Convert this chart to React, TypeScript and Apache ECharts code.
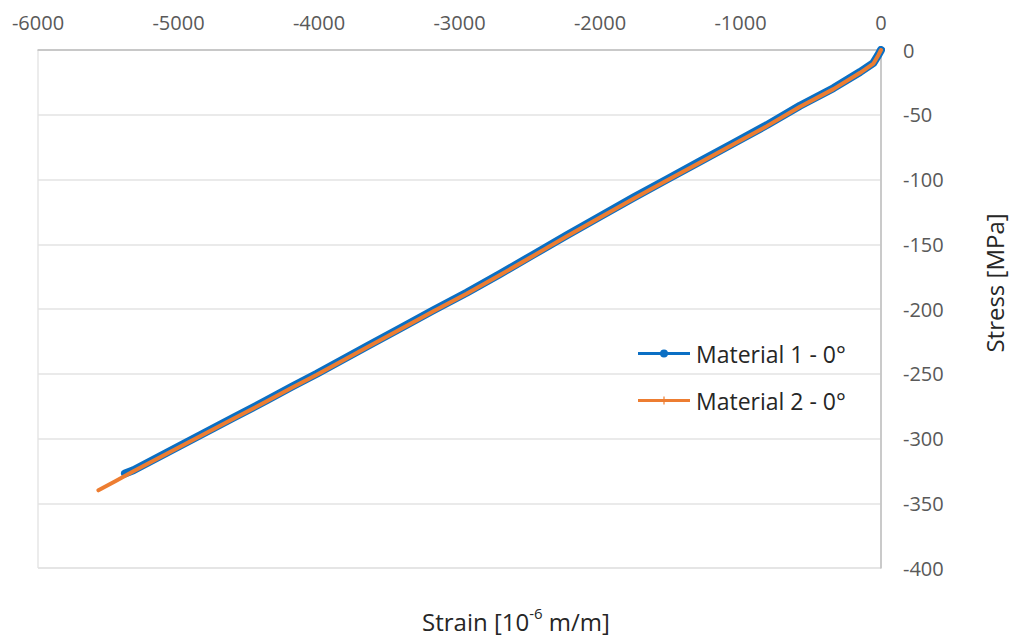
import React, { useEffect, useRef } from "react";
import * as echarts from "echarts";

const strain1 = [0, -20, -54, -149, -339, -577, -813, -1050, -1288, -1525, -1762, -2000, -2236, -2474, -2712, -2950, -3186, -3424, -3661, -3840, -4016, -4194, -4372, -4610, -4847, -5084, -5321, -5381];
const stress1 = [0, -4, -10, -17, -29.5, -43, -58, -72, -86, -100, -114, -128.5, -143, -158, -173, -187.5, -201, -215, -229, -239.5, -250, -260, -270.5, -284, -297.5, -311, -324.5, -327];

const strain2 = [0, -20, -54, -149, -339, -577, -813, -1050, -1288, -1525, -1762, -2000, -2236, -2474, -2712, -2950, -3186, -3424, -3661, -3840, -4016, -4194, -4372, -4610, -4847, -5084, -5321, -5450, -5570];
const stress2 = [0, -4.2, -10.5, -17.6, -30.2, -43.8, -58.8, -72.8, -86.8, -100.8, -114.8, -129.3, -143.8, -158.8, -173.8, -188.3, -201.8, -215.8, -229.8, -240.3, -250.8, -260.8, -271.3, -284.8, -298.3, -311.8, -325.3, -333, -340];

const seriesNames = ["Material 1 - 0°", "Material 2 - 0°"];
const yTitle = "Stress [MPa]";

const FONT = "'Open Sans', 'Noto Sans', sans-serif";

export default function App() {
  const ref = useRef<HTMLDivElement>(null);
  useEffect(() => {
    document.body.style.margin = "0";
    if (!ref.current) return;
    const chart = echarts.init(ref.current, null, { renderer: "svg" });
    const d1 = strain1.map((x, i) => [x, stress1[i]]);
    const d2 = strain2.map((x, i) => [x, stress2[i]]);
    const blueIcon = "path://M0,2.5 L52,2.5 L52,5.5 L0,5.5 Z M22,4 A4,4 0 1,1 30,4 A4,4 0 1,1 22,4 Z";
    const orangeIcon = "path://M0,2.5 L52,2.5 L52,5.5 L0,5.5 Z M25.4,0 L26.6,0 L26.6,8 L25.4,8 Z";
    chart.setOption({
      animation: false,
      backgroundColor: "#ffffff",
      grid: {
        left: 38,
        right: 128,
        top: 50,
        bottom: 68,
        containLabel: false,
        outerBoundsMode: "none",
        show: true,
        borderColor: "#d9d9d9",
        borderWidth: 1,
      },
      legend: {
        orient: "vertical",
        left: 638,
        top: 342,
        padding: 0,
        itemWidth: 54,
        itemHeight: 8,
        itemGap: 24,
        textStyle: { fontFamily: FONT, fontSize: 23, color: "#262626" },
        data: [
          { name: seriesNames[0], icon: blueIcon },
          { name: seriesNames[1], icon: orangeIcon },
        ],
      },
      xAxis: {
        type: "value",
        position: "top",
        min: -6000,
        max: 0,
        interval: 1000,
        axisLine: { show: true, onZero: false, lineStyle: { color: "#bfbfbf", width: 1.5 } },
        axisTick: { show: false },
        splitLine: { show: false },
        axisLabel: {
          fontFamily: FONT,
          fontSize: 20,
          color: "#595959",
          margin: 18,
          formatter: (v: number) => String(v),
        },
      },
      yAxis: {
        type: "value",
        position: "right",
        min: -400,
        max: 0,
        interval: 50,
        axisLine: { show: true, onZero: false, lineStyle: { color: "#bfbfbf", width: 1.5 } },
        axisTick: { show: false },
        splitLine: { show: true, lineStyle: { color: "#e3e3e3", width: 1.5 } },
        axisLabel: {
          fontFamily: FONT,
          fontSize: 20,
          color: "#595959",
          margin: 22,
          formatter: (v: number) => String(v),
        },
      },
      graphic: [
        {
          type: "text",
          x: 994,
          y: 283,
          rotation: Math.PI / 2,
          style: {
            text: yTitle,
            fontFamily: FONT,
            fontSize: 24,
            fill: "#262626",
            align: "center",
            verticalAlign: "middle",
          },
        },
        {
          type: "text",
          x: 516,
          y: 621,
          style: {
            text: "{a|Strain [10}{s|-6}{a| m/m]}",
            align: "center",
            verticalAlign: "middle",
            rich: {
              a: { fontFamily: FONT, fontSize: 24, fill: "#262626", color: "#262626", lineHeight: 32 },
              s: { fontFamily: FONT, fontSize: 15, fill: "#262626", color: "#262626", lineHeight: 17, verticalAlign: "top" },
            },
          },
        },
      ],
      series: [
        {
          name: seriesNames[0],
          type: "line",
          data: d1,
          showSymbol: false,
          symbol: "circle",
          color: "#0B6FC4",
          lineStyle: { width: 8, color: "#0B6FC4", cap: "round", join: "round" },
          z: 2,
        },
        {
          name: seriesNames[1],
          type: "line",
          data: d2,
          showSymbol: false,
          color: "#ED7D31",
          lineStyle: { width: 4, color: "#ED7D31", cap: "round", join: "round" },
          z: 3,
        },
      ],
    });
    return () => chart.dispose();
  }, []);
  return <div ref={ref} style={{ width: 1009, height: 636 }} />;
}
